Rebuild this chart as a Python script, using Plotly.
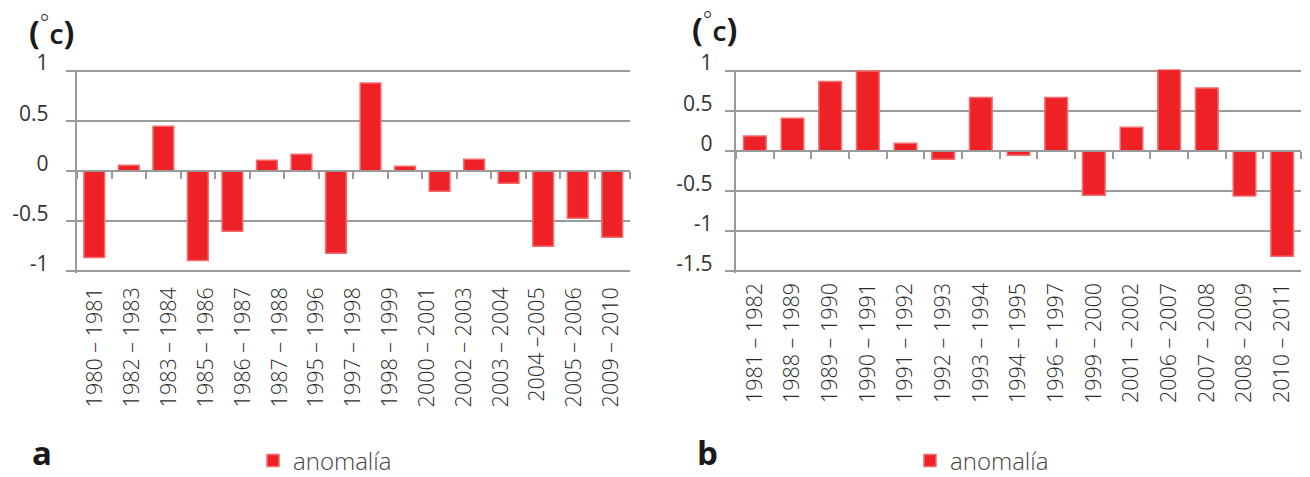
import plotly.graph_objects as go

# Panel a: temperature anomaly per season (16 bars, 15 season labels on the axis)
season_labels_a = [
    "1980 – 1981", "1982 – 1983", "1983 – 1984", "1985 – 1986", "1986 – 1987",
    "1987 – 1988", "1995 – 1996", "1997 – 1998", "1998 – 1999", "2000 – 2001",
    "2002 – 2003", "2003 – 2004", "2004 –2005", "2005 – 2006", "2009 – 2010",
]
anomaly_a = [-0.86, 0.06, 0.45, -0.89, -0.60, 0.11, 0.17, -0.82,
             0.88, 0.05, -0.20, 0.12, -0.12, -0.75, -0.47, -0.66]
bar_slots_a = list(range(len(anomaly_a)))

# Panel b: temperature anomaly per season
season_labels_b = [
    "1981 – 1982", "1988 – 1989", "1989 – 1990", "1990 – 1991", "1991 – 1992",
    "1992 – 1993", "1993 – 1994", "1994 – 1995", "1996 – 1997", "1999 – 2000",
    "2001 – 2002", "2006 – 2007", "2007 – 2008", "2008 – 2009", "2010 – 2011",
]
anomaly_b = [0.19, 0.41, 0.87, 1.00, 0.10, -0.10, 0.67, -0.05,
             0.67, -0.55, 0.30, 1.02, 0.79, -0.56, -1.31]

y_ticks_a = [-1, -0.5, 0, 0.5, 1]
y_ticks_b = [-1.5, -1, -0.5, 0, 0.5, 1]

W, H = 1310, 477
RED = "#ee2226"
EDGE = "#f36b6d"
GRID = "#9a9a9a"
TXT = "#333333"
FONT = "Open Sans"
LW = 2.4


def px_x(p):
    return p / W


def px_y(p):
    return 1 - p / H


dom_a = [px_x(77), px_x(629.5)]
dom_b = [px_x(736), px_x(1301)]
dom_y = [px_y(273), px_y(69.5)]

# small padding so the outermost gridlines are still drawn
pad_a = 0.016
pad_b = 0.02
range_a = [y_ticks_a[0] - pad_a, y_ticks_a[-1] + pad_a]
range_b = [y_ticks_b[0] - pad_b, y_ticks_b[-1] + pad_b]


def zero_pos(rng):
    return dom_y[0] + (0 - rng[0]) / (rng[1] - rng[0]) * (dom_y[1] - dom_y[0])


fig = go.Figure()

fig.add_trace(go.Bar(
    x=bar_slots_a, y=anomaly_a, name="anomalía",
    marker=dict(color=RED, line=dict(color=EDGE, width=1.5)),
    width=0.6, xaxis="x", yaxis="y", legend="legend", cliponaxis=False,
))
# carrier for the season label axis of panel a (no marks)
fig.add_trace(go.Scatter(x=[], y=[], xaxis="x2", yaxis="y", showlegend=False,
                         hoverinfo="skip"))
fig.add_trace(go.Bar(
    x=season_labels_b, y=anomaly_b, name="anomalía",
    marker=dict(color=RED, line=dict(color=EDGE, width=1.5)),
    width=0.6, xaxis="x3", yaxis="y2", legend="legend2", cliponaxis=False,
))

tick_font_y = dict(family=FONT, size=21, color=TXT)
tick_font_x = dict(family=FONT, size=21.5, color="#2a2a2a", weight=300)

yaxis_common = dict(
    showgrid=True, gridcolor=GRID, gridwidth=LW,
    zeroline=False, showline=True, linecolor=GRID, linewidth=LW,
    ticks="outside", ticklen=9, tickwidth=LW, tickcolor=GRID,
    tickfont=tick_font_y, ticklabelshift=-8,
    domain=dom_y, fixedrange=True,
)

n_a = len(anomaly_a)
n_lab_a = len(season_labels_a)
n_b = len(anomaly_b)

legend_font = dict(family=FONT, size=24, color="#444444", weight=300)

fig.update_layout(
    width=W, height=H, autosize=False,
    margin=dict(l=0, r=0, t=0, b=0, autoexpand=False),
    paper_bgcolor="white", plot_bgcolor="white",
    showlegend=True,
    # panel a: bar axis drawn at zero with ticks on the slot boundaries
    xaxis=dict(domain=dom_a, anchor="free", position=zero_pos(range_a),
               range=[-0.5, n_a - 0.5], tickmode="linear", tick0=0.5, dtick=1,
               ticks="outside", ticklen=7, tickwidth=LW, tickcolor=GRID,
               showline=True, linecolor=GRID, linewidth=LW,
               showticklabels=False, showgrid=False, zeroline=False,
               fixedrange=True),
    # panel a: season labels along the bottom
    xaxis2=dict(domain=dom_a, anchor="y", overlaying="x",
                range=[-0.5, n_lab_a - 0.5], tickmode="array",
                tickvals=list(range(n_lab_a)), ticktext=season_labels_a,
                tickangle=-90, tickfont=tick_font_x, ticks="",
                showgrid=False, zeroline=False, showline=False,
                ticklabelstandoff=9, fixedrange=True),
    yaxis=dict(anchor="x2", range=range_a, tickvals=y_ticks_a,
               ticktext=[f"{v:g}" for v in y_ticks_a],
               ticklabelstandoff=13, **yaxis_common),
    # panel b: categorical axis drawn at zero, labels pushed down below the plot
    xaxis3=dict(domain=dom_b, anchor="free", position=zero_pos(range_b),
                type="category", categoryorder="array", categoryarray=season_labels_b,
                range=[-0.5, n_b - 0.5], tickson="boundaries",
                ticks="outside", ticklen=7, tickwidth=LW, tickcolor=GRID,
                showline=True, linecolor=GRID, linewidth=LW,
                tickangle=-90, tickfont=tick_font_x, ticklabelstandoff=122,
                showgrid=False, zeroline=False, fixedrange=True),
    yaxis2=dict(anchor="x3", range=range_b, tickvals=y_ticks_b,
                ticktext=[f"{v:g}" for v in y_ticks_b],
                ticklabelstandoff=8, **yaxis_common),
    legend=dict(x=px_x(253), y=px_y(461), xanchor="left", yanchor="middle",
                orientation="h", font=legend_font, bgcolor="rgba(0,0,0,0)"),
    legend2=dict(x=px_x(910), y=px_y(461), xanchor="left", yanchor="middle",
                 orientation="h", font=legend_font, bgcolor="rgba(0,0,0,0)"),
)

title_txt = ("(<sup><span style='font-weight:300'>°</span></sup>"
             "<span style='font-size:22px'>C</span>)")
for xp, yp, txt in [(27, 30, title_txt), (690, 27, title_txt)]:
    fig.add_annotation(x=px_x(xp), y=px_y(yp), xref="paper", yref="paper",
                       xanchor="left", yanchor="middle", showarrow=False, text=txt,
                       font=dict(family=FONT, size=32, color="#1a1a1a", weight=700))
for xp, txt in [(30, "a"), (695, "b")]:
    fig.add_annotation(x=px_x(xp), y=0, xref="paper", yref="paper",
                       xanchor="left", yanchor="bottom", showarrow=False, text=txt,
                       font=dict(family=FONT, size=33, color="#1a1a1a", weight=700))

fig.write_html("out.html")
